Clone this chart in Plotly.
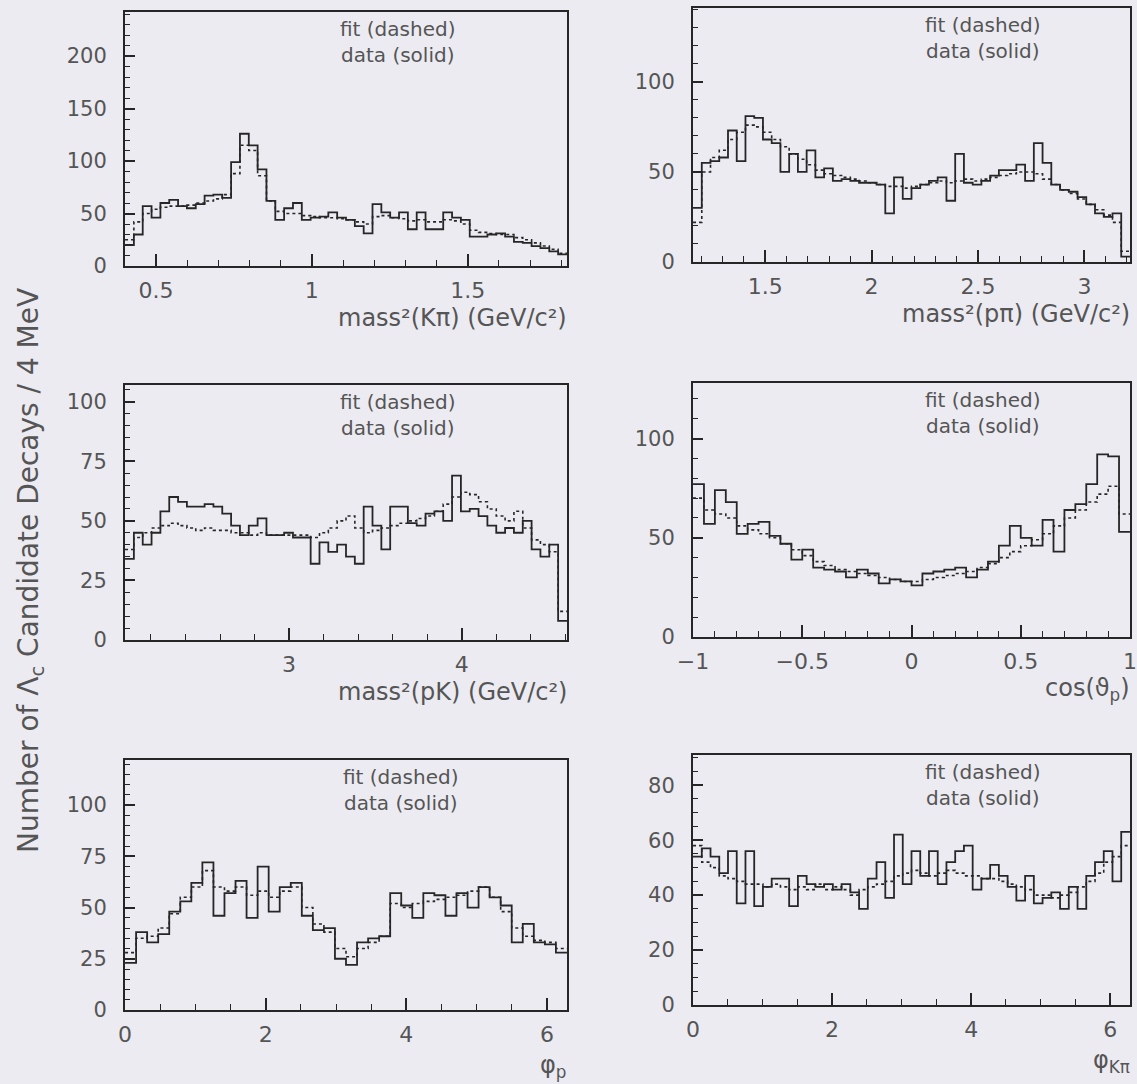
import numpy as np
import plotly.graph_objects as go

# ---------------- data ----------------
kpi_range = [0.401, 1.818]
kpi_data = [20, 30, 57, 46, 60, 63, 57, 55, 59, 67, 68, 65, 99, 126, 115, 92, 62, 44, 55, 60,
            44, 46, 47, 51, 46, 44, 38, 31, 59, 51, 46, 51, 35, 51, 35, 35, 51, 46, 44, 28,
            28, 30, 31, 28, 23, 22, 19, 17, 14, 11]
kpi_fit = [25, 42, 50, 54, 56, 57, 57, 58, 60, 62, 64, 68, 88, 115, 110, 86, 62, 52, 50, 50,
           48, 47, 46, 46, 45, 44, 42, 40, 47, 48, 46, 45, 43, 44, 42, 42, 44, 43, 40, 34,
           32, 31, 30, 30, 27, 25, 22, 19, 16, 12]

ppi_range = [1.161, 3.214]
ppi_data = [30, 55, 56, 58, 73, 56, 81, 80, 68, 66, 50, 60, 50, 62, 47, 52, 45, 46, 45, 44,
            44, 43, 27, 47, 35, 41, 43, 45, 47, 34, 60, 44, 43, 45, 48, 51, 51, 54, 45, 66,
            55, 43, 40, 39, 36, 32, 27, 25, 27, 3]
ppi_fit = [22, 50, 58, 62, 68, 72, 76, 75, 72, 68, 64, 60, 57, 54, 51, 49, 48, 47, 46, 45,
           44, 43, 42, 42, 41, 42, 43, 44, 45, 44, 45, 46, 45, 46, 47, 48, 49, 50, 50, 49,
           46, 43, 40, 38, 35, 32, 29, 26, 22, 6]

pk_range = [2.05, 4.609]
pk_data = [34, 45, 40, 45, 54, 60, 58, 56, 56, 57, 56, 53, 48, 44, 48, 51, 44, 44, 45, 43,
           43, 32, 41, 37, 40, 35, 32, 56, 48, 38, 56, 56, 49, 48, 53, 54, 50, 69, 54, 55,
           52, 48, 45, 47, 45, 50, 38, 35, 40, 8]
pk_fit = [38, 43, 45, 47, 48, 49, 48, 47, 46, 47, 46, 46, 45, 45, 44, 45, 44, 44, 44, 44,
          44, 43, 45, 47, 50, 52, 47, 45, 46, 47, 48, 49, 50, 51, 52, 54, 57, 60, 62, 61,
          58, 55, 52, 50, 54, 47, 42, 40, 37, 12]

cos_range = [-1.0, 1.0]
cos_data = [77, 57, 74, 68, 52, 57, 58, 51, 47, 39, 44, 35, 34, 33, 30, 34, 32, 27, 29, 28,
            26, 32, 33, 34, 35, 30, 34, 38, 46, 56, 50, 46, 59, 43, 64, 67, 77, 92, 91, 53]
cos_fit = [70, 64, 62, 60, 56, 54, 52, 50, 47, 44, 41, 38, 36, 34, 33, 32, 31, 30, 29, 28,
           28, 29, 30, 31, 32, 33, 35, 37, 40, 43, 46, 49, 52, 56, 60, 64, 68, 72, 76, 62]

phip_range = [0.0, 2 * np.pi]
phip_data = [23, 38, 33, 37, 48, 53, 62, 72, 46, 57, 63, 45, 70, 48, 60, 62, 46, 39, 40, 25,
             22, 33, 35, 36, 57, 51, 45, 57, 56, 46, 57, 50, 60, 55, 51, 33, 42, 33, 32, 28]
phip_fit = [28, 35, 36, 40, 47, 55, 60, 68, 60, 58, 60, 56, 58, 55, 58, 60, 50, 42, 38, 30,
            26, 30, 33, 36, 52, 50, 52, 53, 54, 55, 56, 58, 60, 55, 48, 40, 36, 34, 33, 30]

phikpi_range = [0.0, 2 * np.pi]
phikpi_data = [54, 57, 54, 48, 56, 37, 56, 36, 43, 46, 46, 36, 47, 44, 43, 44, 42, 44, 41, 35,
               46, 52, 39, 62, 44, 56, 47, 56, 44, 52, 56, 58, 42, 46, 51, 47, 43, 38, 47, 37,
               39, 41, 35, 43, 35, 47, 52, 56, 45, 63]
phikpi_fit = [58, 52, 50, 47, 46, 45, 44, 44, 43, 44, 43, 42, 43, 42, 44, 42, 43, 42, 40, 42,
              43, 44, 45, 47, 48, 49, 48, 47, 48, 49, 48, 47, 47, 46, 46, 45, 44, 43, 42, 40,
              40, 39, 40, 41, 43, 45, 48, 52, 54, 58]

x_titles = ["mass²(Kπ) (GeV/c²)", "mass²(pπ) (GeV/c²)", "mass²(pK) (GeV/c²)",
            "cos(ϑ<sub>p</sub>)", "φ<sub>p</sub>", "φ<sub>Kπ</sub>"]
y_title = "Number of Λ<sub>c</sub> Candidate Decays / 4 MeV"
key_text = "fit (dashed)<br>data (solid)"

# ---------------- style / layout ----------------
W, H = 1137, 1084
BG = "#ecebf2"
LINE = "#262626"
TXT = "#555555"
FONT = "DejaVu Sans"

# pixel frames (left, right, top, bottom)
frames = [(125, 567, 12, 266), (693, 1130, 8, 262),
          (125, 567, 385, 640), (693, 1130, 383, 637),
          (125, 567, 760, 1010), (693, 1130, 755, 1005)]
label_cx = [397, 982, 397, 982, 400, 982]

panels = [
    dict(rng=kpi_range, data=kpi_data, fit=kpi_fit, yr=[0, 242], xd=0.5, xm=0.1, yd=50, ym=10),
    dict(rng=ppi_range, data=ppi_data, fit=ppi_fit, yr=[0, 141], xd=0.5, xm=0.1, yd=50, ym=10),
    dict(rng=pk_range, data=pk_data, fit=pk_fit, yr=[0, 107], xd=1, xm=0.2, yd=25, ym=5),
    dict(rng=cos_range, data=cos_data, fit=cos_fit, yr=[0, 128], xd=0.5, xm=0.1, yd=50, ym=10),
    dict(rng=phip_range, data=phip_data, fit=phip_fit, yr=[0, 122], xd=2, xm=0.5, yd=25, ym=5),
    dict(rng=phikpi_range, data=phikpi_data, fit=phikpi_fit, yr=[0, 91], xd=2, xm=0.5, yd=20, ym=5),
]


def steps(rng, vals):
    edges = np.linspace(rng[0], rng[1], len(vals) + 1)
    return list(edges), list(vals) + [vals[-1]]


fig = go.Figure()
annotations = []
layout = {}
for i, (p, fr) in enumerate(zip(panels, frames)):
    n = i + 1
    xa = "x" if n == 1 else f"x{n}"
    ya = "y" if n == 1 else f"y{n}"
    l, r, t, b = fr
    xs, ys = steps(p["rng"], p["fit"])
    fig.add_trace(go.Scatter(x=xs, y=ys, mode="lines", line_shape="hv",
                             line=dict(color=LINE, width=1.6, dash="3px,3px"),
                             xaxis=xa, yaxis=ya, showlegend=False, hoverinfo="skip"))
    xs, ys = steps(p["rng"], p["data"])
    fig.add_trace(go.Scatter(x=xs, y=ys, mode="lines", line_shape="hv",
                             line=dict(color=LINE, width=1.8),
                             xaxis=xa, yaxis=ya, showlegend=False, hoverinfo="skip"))
    pad = (p["rng"][1] - p["rng"][0]) * 1e-4
    layout["xaxis" if n == 1 else f"xaxis{n}"] = dict(
        domain=[l / W, r / W], range=[p["rng"][0] - pad, p["rng"][1] + pad],
        anchor=ya, showgrid=False, zeroline=False, automargin=False,
        showline=True, mirror=True, linecolor=LINE, linewidth=2,
        ticks="inside", ticklen=12, tickwidth=1.5, tickcolor=LINE,
        tick0=0, dtick=p["xd"],
        minor=dict(ticks="inside", ticklen=6, tickwidth=1.2, tickcolor=LINE, dtick=p["xm"], tick0=0),
        tickfont=dict(family=FONT, size=22, color=TXT), ticklabelstandoff=4)
    layout["yaxis" if n == 1 else f"yaxis{n}"] = dict(
        domain=[1 - b / H, 1 - t / H], range=p["yr"],
        anchor=xa, showgrid=False, zeroline=False, automargin=False,
        showline=True, mirror=True, linecolor=LINE, linewidth=2,
        ticks="inside", ticklen=10, tickwidth=1.5, tickcolor=LINE,
        tick0=0, dtick=p["yd"],
        minor=dict(ticks="inside", ticklen=5, tickwidth=1.2, tickcolor=LINE, dtick=p["ym"], tick0=0),
        tickfont=dict(family=FONT, size=21, color=TXT), ticklabelstandoff=12)
    # legend-like text (two lines in one text block)
    annotations.append(dict(text=key_text, x=label_cx[i] / W, y=1 - (t + 4) / H,
                            xanchor="center", yanchor="top", align="center",
                            xref="paper", yref="paper", showarrow=False, borderpad=0,
                            font=dict(family=FONT, size=20, color=TXT)))
    # x-axis title
    ty = b + 52 if i < 4 else b + 56
    annotations.append(dict(text=x_titles[i], x=(r + 2) / W, y=1 - ty / H, xanchor="right",
                            yanchor="middle", xref="paper", yref="paper", showarrow=False,
                            font=dict(family=FONT, size=24, color=TXT)))

annotations.append(dict(text=y_title, x=30 / W, y=1 - 571 / H, textangle=-90,
                        xanchor="center", yanchor="middle",
                        xref="paper", yref="paper", showarrow=False,
                        font=dict(family=FONT, size=28, color=TXT)))

fig.update_layout(width=W, height=H, margin=dict(l=0, r=0, t=0, b=0, autoexpand=False),
                  paper_bgcolor=BG, plot_bgcolor=BG, annotations=annotations,
                  font=dict(family=FONT, color=TXT), **layout)

fig.write_html("out.html")
